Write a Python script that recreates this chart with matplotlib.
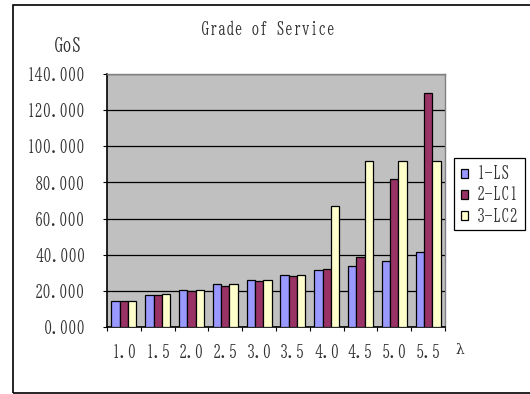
import numpy as np
import matplotlib
matplotlib.use("Agg")
import matplotlib.pyplot as plt
from matplotlib.patches import Rectangle

lambdas = ["1.0", "1.5", "2.0", "2.5", "3.0", "3.5", "4.0", "4.5", "5.0", "5.5"]
series_names = ["1-LS", "2-LC1", "3-LC2"]
ls_vals = [14.4, 17.5, 20.6, 23.8, 26.0, 28.9, 31.3, 33.7, 36.6, 41.3]
lc1_vals = [14.4, 17.5, 19.7, 22.8, 25.2, 28.4, 31.9, 38.9, 82.0, 129.5]
lc2_vals = [14.4, 18.2, 20.6, 23.8, 26.0, 28.9, 67.2, 91.9, 91.9, 91.9]
y_ticks = [0, 20, 40, 60, 80, 100, 120, 140]

colors = ["#9999FF", "#993366", "#FFFFCC"]
font = ["BIZ UDMincho", "DejaVu Serif"]
fs = 12
txt_color = "#333333"

fig = plt.figure(figsize=(5.30, 3.94), dpi=100)
fig.patch.set_facecolor("white")

# outer chart frame
fig.add_artist(Rectangle((13 / 530, 1.5 / 394), 1.2, 1 - 6.5 / 394,
                         transform=fig.transFigure, fill=False,
                         edgecolor="black", linewidth=1.2))

ax = fig.add_axes([107 / 530, 67 / 394, 338 / 530, 253 / 394])
ax.set_facecolor("#C0C0C0")

x = np.arange(len(lambdas))
w = 0.245
for i, (vals, c, name) in enumerate(zip([ls_vals, lc1_vals, lc2_vals], colors, series_names)):
    ax.bar(x + (i - 1) * w, vals, width=w, color=c, edgecolor="black",
           linewidth=0.9, label=name, zorder=3)

ax.set_xlim(-0.5, len(lambdas) - 0.5)
ax.set_ylim(0, 140)
ax.set_yticks(y_ticks)
ax.set_yticklabels([f"{v:.3f}" for v in y_ticks], fontfamily=font, fontsize=fs,
                   color=txt_color)
ax.yaxis.grid(True, color="black", linewidth=0.9, zorder=1)
ax.set_axisbelow(True)

ax.set_xticks(x)
ax.set_xticklabels(lambdas, fontfamily=font, fontsize=fs, color=txt_color)
ax.set_xticks(np.arange(len(lambdas) + 1) - 0.5, minor=True)
ax.tick_params(axis="x", which="major", length=0, pad=12)
ax.tick_params(axis="x", which="minor", length=3, direction="out", width=0.8)
ax.tick_params(axis="y", which="major", length=3, direction="out", width=0.8, pad=12.5)

for side in ["top", "right"]:
    ax.spines[side].set_color("#808080")
    ax.spines[side].set_linewidth(1.0)
for side in ["left", "bottom"]:
    ax.spines[side].set_color("black")
    ax.spines[side].set_linewidth(1.2)

fig.text(268 / 530, 1 - 29 / 394, "Grade of Service", ha="center", va="center",
         fontfamily=font, fontsize=fs, color=txt_color)
fig.text(68 / 530, 1 - 45 / 394, "GoS", ha="center", va="center",
         fontfamily=font, fontsize=13.5, color=txt_color)
fig.text(460 / 530, 1 - 350 / 394, "λ", ha="center", va="center",
         fontfamily=["DejaVu Serif"], fontsize=10, color=txt_color)

leg = ax.legend(loc="upper left", bbox_to_anchor=(454 / 530, 1 - 158 / 394),
                bbox_transform=fig.transFigure, prop={"family": font, "size": fs},
                frameon=True, fancybox=False, edgecolor="black", framealpha=1,
                handlelength=0.45, handleheight=0.45, handletextpad=0.5,
                borderpad=0.4, labelspacing=0.3, borderaxespad=0)
leg.get_frame().set_linewidth(0.9)
for t in leg.get_texts():
    t.set_color(txt_color)

fig.savefig("out.png", dpi=100, facecolor="white")
